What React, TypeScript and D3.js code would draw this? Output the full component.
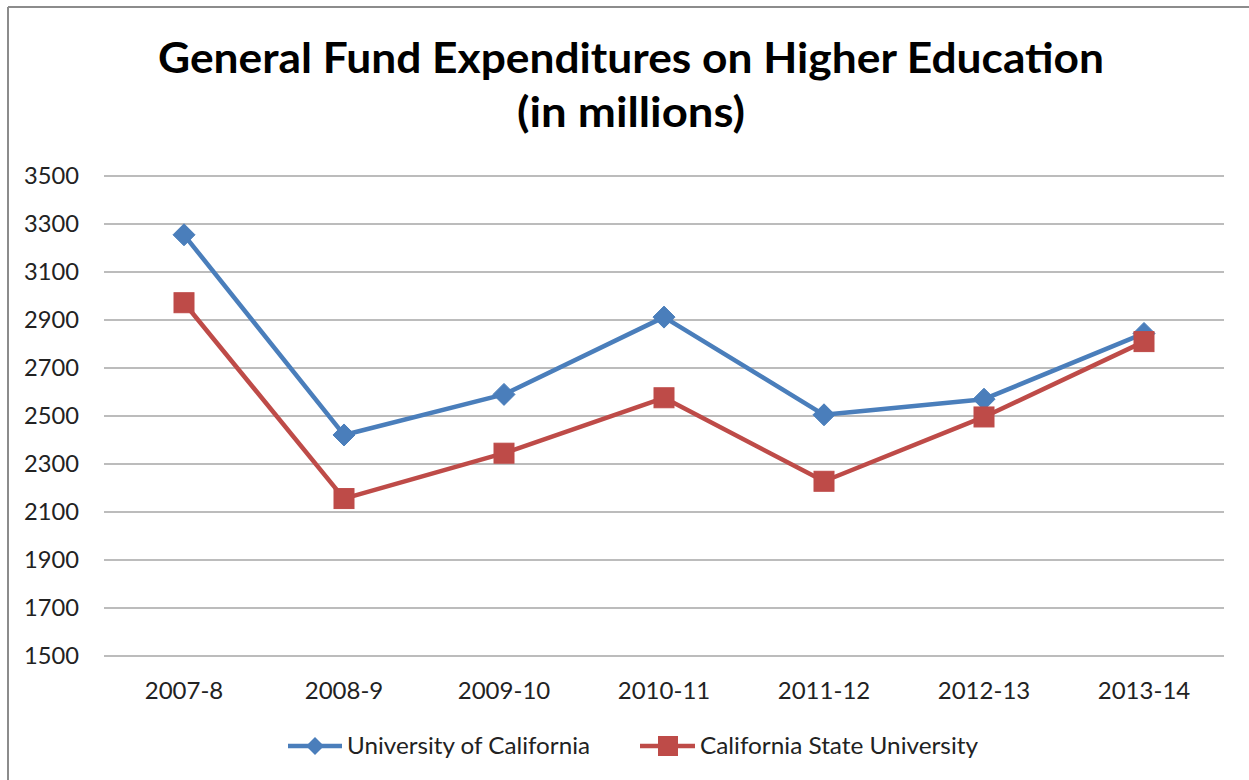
import React from "react";
import * as d3 from "d3";

const categories = ["2007-8", "2008-9", "2009-10", "2010-11", "2011-12", "2012-13", "2013-14"];
const ucValues = [3255, 2421, 2590, 2912, 2505, 2570, 2844];
const csuValues = [2972, 2156, 2345, 2576, 2228, 2496, 2810];
const yTicks = [1500, 1700, 1900, 2100, 2300, 2500, 2700, 2900, 3100, 3300, 3500];
const seriesNames = ["University of California", "California State University"];
const seriesColors = ["#4A7EBB", "#BE4B48"];

const W = 1249;
const H = 780;
const font = "Lato, 'Open Sans', sans-serif";

export default function App() {
  const x = d3.scaleBand<string>().domain(categories).range([104, 1224]);
  const y = d3.scaleLinear().domain([1500, 3500]).range([656, 176]);
  const cx = (c: string) => (x(c) as number) + x.bandwidth() / 2;
  const line = d3
    .line<number>()
    .x((_, i) => cx(categories[i]))
    .y((v) => y(v));

  const diamond = (px: number, py: number, r: number) =>
    `M${px},${py - r}L${px + r},${py}L${px},${py + r}L${px - r},${py}Z`;

  return (
    <svg width={W} height={H} style={{ position: "absolute", left: 0, top: 0, background: "#fff" }}>
      <rect x={0} y={0} width={W} height={H} fill="#fff" />
      {/* chart border (only left and top visible) */}
      <line x1={8} y1={7} x2={W + 5} y2={7} stroke="#8c8c8c" strokeWidth={2} />
      <line x1={8} y1={7} x2={8} y2={H + 5} stroke="#8c8c8c" strokeWidth={2} />

      {/* title */}
      <text x={631} y={73} textAnchor="middle" fontFamily={font} fontWeight={700} fontSize={42}
        textLength={946} lengthAdjust="spacingAndGlyphs" fill="#000">
        General Fund Expenditures on Higher Education
      </text>
      <text x={631} y={127} textAnchor="middle" fontFamily={font} fontWeight={700} fontSize={42}
        textLength={228} lengthAdjust="spacingAndGlyphs" fill="#000">
        (in millions)
      </text>

      {/* gridlines */}
      {yTicks.map((t) => (
        <g key={t}>
          <line x1={104} x2={1224} y1={y(t)} y2={y(t)} stroke="#a6a6a6" strokeWidth={1.5} />
          <text x={79} y={y(t) + 8} textAnchor="end" fontFamily={font} fontSize={24} fill="#222"
            textLength={55} lengthAdjust="spacingAndGlyphs">
            {t}
          </text>
        </g>
      ))}

      {/* x labels */}
      {categories.map((c) => (
        <text key={c} x={cx(c)} y={699} textAnchor="middle" fontFamily={font} fontSize={24} fill="#222">
          {c}
        </text>
      ))}

      {/* series lines */}
      <path d={line(ucValues) as string} fill="none" stroke={seriesColors[0]} strokeWidth={4.5} strokeLinejoin="round" />
      <path d={line(csuValues) as string} fill="none" stroke={seriesColors[1]} strokeWidth={4.5} strokeLinejoin="round" />

      {ucValues.map((v, i) => (
        <path key={"uc" + i} d={diamond(cx(categories[i]), y(v), 11)} fill={seriesColors[0]} stroke={seriesColors[0]} strokeWidth={1} />
      ))}
      {csuValues.map((v, i) => (
        <rect key={"csu" + i} x={cx(categories[i]) - 10} y={y(v) - 10} width={20} height={20}
          fill={seriesColors[1]} stroke={seriesColors[1]} strokeWidth={1} />
      ))}

      {/* legend */}
      <line x1={288} x2={342} y1={746} y2={746} stroke={seriesColors[0]} strokeWidth={4.5} />
      <path d={diamond(315, 746, 9)} fill={seriesColors[0]} />
      <text x={347} y={754} fontFamily={font} fontSize={23} fill="#222" textLength={243} lengthAdjust="spacingAndGlyphs">
        {seriesNames[0]}
      </text>
      <line x1={640} x2={695} y1={746} y2={746} stroke={seriesColors[1]} strokeWidth={4.5} />
      <rect x={658} y={736} width={20} height={20} fill={seriesColors[1]} />
      <text x={700} y={754} fontFamily={font} fontSize={23} fill="#222" textLength={278} lengthAdjust="spacingAndGlyphs">
        {seriesNames[1]}
      </text>
    </svg>
  );
}
